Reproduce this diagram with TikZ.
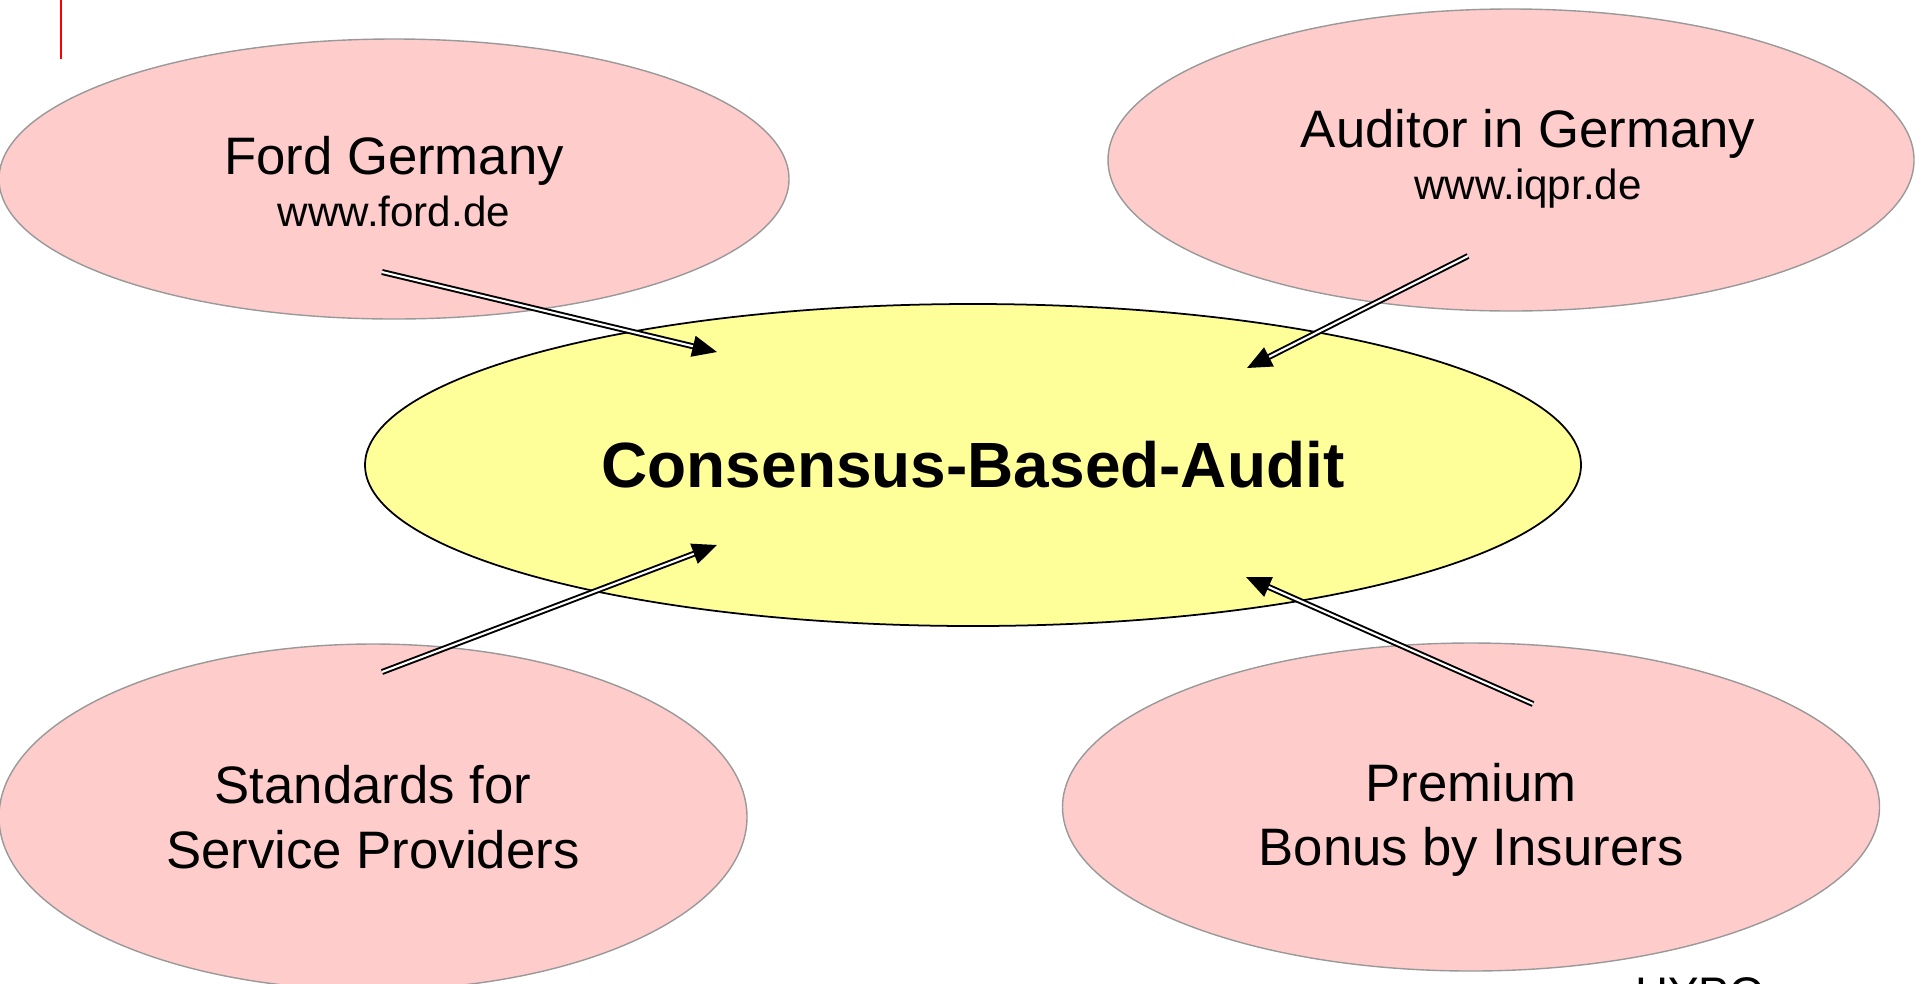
\documentclass[tikz,border=0pt]{standalone}
\usepackage{fontspec}
\setmainfont{Liberation Sans}
\usetikzlibrary{shapes.geometric}
\usetikzlibrary{arrows.meta}
\usetikzlibrary{positioning}
\definecolor{party-fill}{HTML}{FFCCCC}
\definecolor{party-line}{HTML}{999999}
\definecolor{audit-fill}{HTML}{FFFF99}
\newcommand{\bigtext}{\fontsize{15}{18.4}\selectfont}
\newcommand{\urltext}{\fontsize{12}{14.2}\selectfont}

\begin{document}
\begin{tikzpicture}[font=\bigtext,
  text only/.style={inner sep=0pt, align=center},
  party/.style={draw=party-line, line width=0.4pt, fill=party-fill, ellipse, inner sep=0pt},
  hub/.style={draw=black, line width=0.5pt, fill=audit-fill, ellipse, inner sep=0pt, align=center},
  feed/.style={draw=black, double, line width=0.55pt, double distance=0.6pt, -{Triangle[length=7pt, width=6pt]}}]
\useasboundingbox (0,0) rectangle (19.15,9.83);
\draw[red, line width=0.6pt] (0.61,9.83) -- (0.61,9.24);
\foreach \name/\x/\y/\rx/\ry/\dx/\dy/\txt in {
    ford/3.94/8.04/3.95/1.40/0/-0.03/{Ford Germany\\[-3.6pt]\urltext www.ford.de},
    auditor/15.11/8.23/4.03/1.51/0.17/0.01/{Auditor in Germany\\[-3.6pt]\urltext www.iqpr.de},
    standards/3.73/1.66/3.74/1.73/0/0/{Standards for\\Service Providers},
    premium/14.71/1.76/4.085/1.64/0/-0.13/{Premium\\Bonus by Insurers}} {
  \node[party, minimum width=2*\rx cm, minimum height=2*\ry cm]
    (\name)
    at (\x, \y)
    {};
  \node[text only]
    (\name-text)
    at (\x+\dx, \y+\dy)
    {\txt};
}
\node[hub, minimum width=12.16cm, minimum height=3.22cm, font=\fontsize{18.2}{20}\selectfont\bfseries]
  (cba)
  at (9.73, 5.18)
  {Consensus-Based-Audit};
\node[anchor=base west, font=\fontsize{13}{13}\selectfont]
  (hypo)
  at (16.23, -0.26)
  {HYPO};
% arrow ends
\coordinate (ford-tail) at (3.82, 7.11);
\coordinate (cba-nw) at (7.17, 6.31);
\coordinate (auditor-tail) at (14.68, 7.27);
\coordinate (cba-ne) at (12.47, 6.15);
\coordinate (standards-tail) at (3.82, 3.11);
\coordinate (cba-sw) at (7.17, 4.38);
\coordinate (premium-tail) at (15.33, 2.79);
\coordinate (cba-se) at (12.46, 4.06);
\foreach \from/\to in {ford-tail/cba-nw, auditor-tail/cba-ne, standards-tail/cba-sw, premium-tail/cba-se}
  \draw[feed] (\from) -- (\to);
\end{tikzpicture}
\end{document}
